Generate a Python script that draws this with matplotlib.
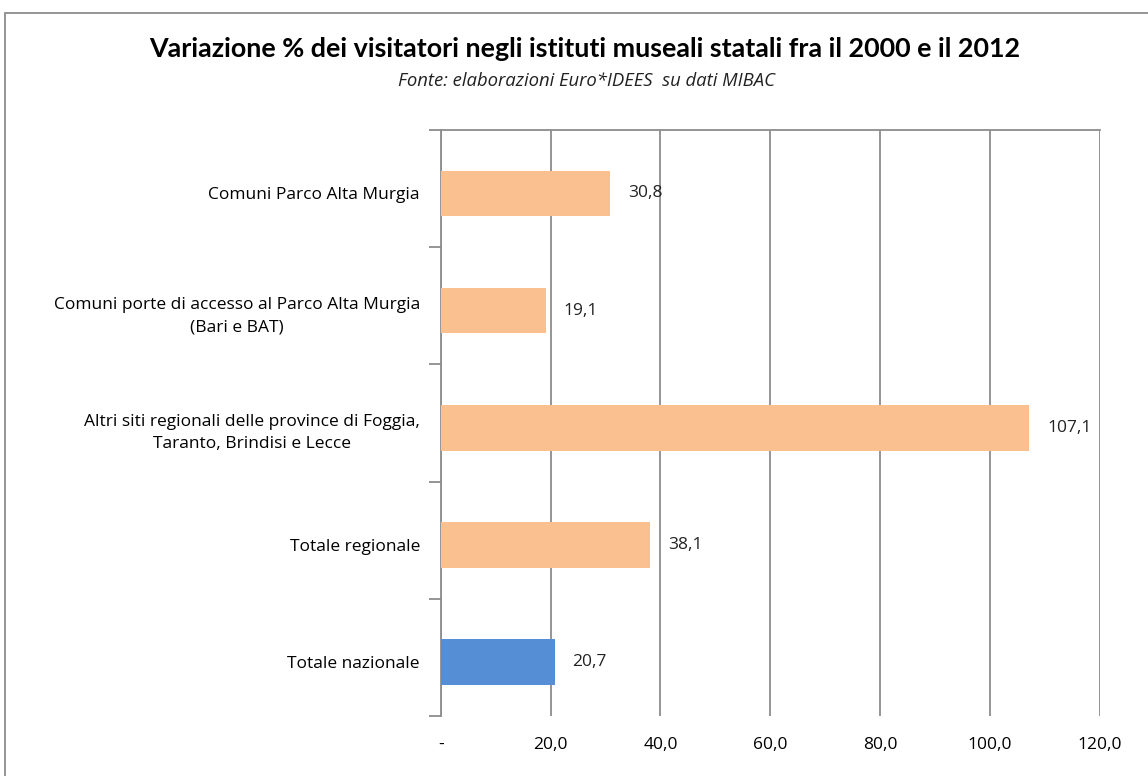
import matplotlib.pyplot as plt
from matplotlib.patches import Rectangle
from matplotlib.ticker import FuncFormatter

plt.rcParams['font.family'] = ['Open Sans', 'DejaVu Sans']

categories = [
    'Comuni Parco Alta Murgia',
    'Comuni porte di accesso al Parco Alta Murgia\n(Bari e BAT)',
    'Altri siti regionali delle province di Foggia,\nTaranto, Brindisi e Lecce',
    'Totale regionale',
    'Totale nazionale',
]
values = [30.8, 19.1, 107.1, 38.1, 20.7]
colors = ['#FAC090', '#FAC090', '#FAC090', '#FAC090', '#558ED5']
xticks = [0, 20, 40, 60, 80, 100, 120]

fig = plt.figure(figsize=(11.48, 7.76), dpi=100)
ax = fig.add_axes([0.384, 0.0773, 0.574, 0.755])

pos = list(range(len(categories)))
ax.barh([p + 0.04 for p in pos], values, height=0.39, color=colors, zorder=3)
for y, v in zip(pos, values):
    ax.text(v + 3.3, y + 0.04, f'{v:.1f}'.replace('.', ','), va='center', ha='left',
            fontsize=12.5, color='#222222')

ax.set_xlim(0, 120)
ax.set_ylim(len(categories) - 0.5, -0.5)
ax.set_xticks(xticks)
ax.xaxis.set_major_formatter(FuncFormatter(
    lambda x, p: '-' if x == 0 else f'{x:.1f}'.replace('.', ',')))
ax.xaxis.grid(True, color='#8c8c8c', linewidth=1.3, zorder=0)
ax.tick_params(axis='x', length=0, pad=15, labelsize=12.5)

ax.set_yticks([p + 0.04 for p in pos])
ax.set_yticklabels(categories, fontsize=12.5, linespacing=1.55, multialignment='center')
ax.set_yticks([i - 0.5 for i in range(len(categories) + 1)], minor=True)
ax.tick_params(axis='y', which='major', length=0, pad=15)
ax.tick_params(axis='y', which='minor', length=9, width=1.3, color='#8c8c8c')

for s in ['right', 'bottom']:
    ax.spines[s].set_visible(False)
for s in ['left', 'top']:
    ax.spines[s].set_color('#8c8c8c')
    ax.spines[s].set_linewidth(1.3)

fig.text(0.509, 0.937, 'Variazione % dei visitatori negli istituti museali statali fra il 2000 e il 2012',
         ha='center', va='center', fontsize=19.4, fontweight='bold', family=['Lato', 'DejaVu Sans'])
fig.text(0.511, 0.896, 'Fonte: elaborazioni Euro*IDEES  su dati MIBAC', ha='center', va='center',
         fontsize=13.3, style='italic', color='#222222')

fig.patches.append(Rectangle((0.0045, -0.1), 1.1, 1.083, transform=fig.transFigure,
                             fill=False, edgecolor='#8c8c8c', linewidth=1.3))

fig.savefig('out.png', dpi=100)
